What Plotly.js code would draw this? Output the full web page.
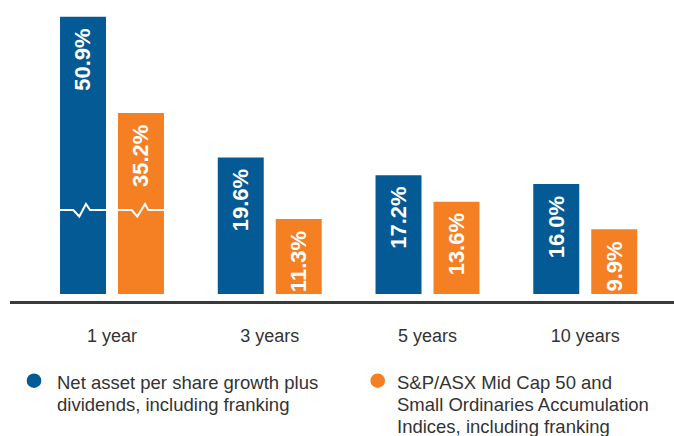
<!DOCTYPE html>
<html>
<head>
<meta charset="utf-8">
<script src="https://cdn.plot.ly/plotly-3.0.1.min.js"></script>
<style>
  html, body { margin: 0; padding: 0; background: #ffffff; }
  #chart { width: 674px; height: 436px; }
</style>
</head>
<body>
<div id="chart"></div>
<script>
// ---- data ----
const categories = ['1 year', '3 years', '5 years', '10 years'];
const navGrowth = [50.9, 19.6, 17.2, 16.0];
const indexReturn = [35.2, 11.3, 13.6, 9.9];
const seriesNames = [
  ['Net asset per share growth plus', 'dividends, including franking'],
  ['S&P/ASX Mid Cap 50 and', 'Small Ordinaries Accumulation', 'Indices, including franking']
];

// ---- styling / scale settings ----
const BLUE = '#035a94';
const ORANGE = '#f58024';
const TEXT = '#333333';
const FONT = 'Liberation Sans, Arial, Helvetica, sans-serif';

// axis break applied to the "1 year" group: values above BREAK_AT are
// shown compressed, resuming at BREAK_RESUME
const BREAK_CATEGORY = 0;
const BREAK_AT = 12.5;
const BREAK_RESUME = 19.38;
const BREAK_SCALE = 0.8287;
const BAR_BASE = 1.15; // small white gap above the axis line

function shown(v, i) {
  if (i !== BREAK_CATEGORY || v <= BREAK_AT) return v;
  return BREAK_AT + Math.max(0, v - BREAK_RESUME) * BREAK_SCALE;
}

const xIdx = categories.map((c, i) => i);
const navShown = navGrowth.map(shown);
const idxShown = indexReturn.map(shown);

function barTrace(shownVals, color, name) {
  return {
    type: 'bar',
    x: xIdx,
    y: shownVals.map(v => v - BAR_BASE),
    base: shownVals.map(() => BAR_BASE),
    marker: { color: color, line: { width: 0 } },
    name: name,
    hoverinfo: 'skip',
    showlegend: false
  };
}

const traces = [
  barTrace(navShown, BLUE, seriesNames[0].join(' ')),
  barTrace(idxShown, ORANGE, seriesNames[1].join(' '))
];

const W = 674, H = 436;
const px = X => X / W;
const py = Y => 1 - Y / H;

const annotations = [];
const OFFSET = 29; // half of one bar slot in px
[[navGrowth, navShown, -OFFSET], [indexReturn, idxShown, OFFSET]].forEach(([vals, sv, dx]) => {
  vals.forEach((v, i) => {
    annotations.push({
      x: i, xref: 'x', y: sv[i], yref: 'y',
      xshift: dx, yshift: -11,
      xanchor: 'center', yanchor: 'top',
      text: v.toFixed(1) + '%',
      textangle: -90,
      showarrow: false,
      borderpad: 0,
      font: { family: FONT, size: 22, color: '#ffffff', weight: 'bold' }
    });
  });
});

// legend texts, one annotation per line
const LEG_LINE = 21.7;
[[seriesNames[0], 56], [seriesNames[1], 395.7]].forEach(([lines, X]) => {
  lines.forEach((t, k) => {
    annotations.push({
      x: px(X), xref: 'paper', y: py(371.3 + k * LEG_LINE), yref: 'paper',
      xanchor: 'left', yanchor: 'top', align: 'left',
      text: t, showarrow: false, borderpad: 0,
      font: { family: FONT, size: 18.5, color: TEXT }
    });
  });
});

const shapes = [];
// legend markers
[[34, BLUE], [377.7, ORANGE]].forEach(([cx, col]) => {
  const r = 7.3, cy = 380.7;
  shapes.push({
    type: 'circle', xref: 'paper', yref: 'paper',
    x0: px(cx - r), x1: px(cx + r), y0: py(cy + r), y1: py(cy - r),
    fillcolor: col, line: { width: 0 }
  });
});
// break marks across the 1 year bars
shapes.push({
  type: 'path',
  xref: 'x', yref: 'y',
  xsizemode: 'pixel', ysizemode: 'pixel',
  xanchor: BREAK_CATEGORY, yanchor: BREAK_AT,
  path: 'M -56 0 L -38.7 0 L -32.7 -6.5 L -26 6 L -22 0 L 19.7 0 L 25.3 -6.5 L 33 6 L 36.3 0 L 54 0',
  line: { color: '#ffffff', width: 2 },
  layer: 'above'
});

const layout = {
  width: W, height: H,
  margin: { l: 0, r: 0, t: 0, b: 0, pad: 0 },
  paper_bgcolor: '#ffffff',
  plot_bgcolor: '#ffffff',
  barmode: 'group',
  bargap: 0.265,
  bargroupgap: 0.207,
  showlegend: false,
  font: { family: FONT, color: TEXT },
  xaxis: {
    domain: [10 / W, 1],
    range: [-0.6466, 3.5626],
    tickmode: 'array',
    tickvals: xIdx,
    ticktext: categories,
    ticks: '',
    ticklabelstandoff: 6,
    showgrid: false,
    zeroline: false,
    showline: false,
    tickfont: { family: FONT, size: 18, color: TEXT },
    fixedrange: true
  },
  yaxis: {
    domain: [(H - 317.3) / H, 1],
    range: [-2, 40.88],
    showgrid: false,
    showticklabels: false,
    ticks: '',
    zeroline: true,
    zerolinecolor: '#3a3a3a',
    zerolinewidth: 2.5,
    showline: false,
    fixedrange: true
  },
  annotations: annotations,
  shapes: shapes
};

Plotly.newPlot('chart', traces, layout, { displayModeBar: false, staticPlot: true });
</script>
</body>
</html>
